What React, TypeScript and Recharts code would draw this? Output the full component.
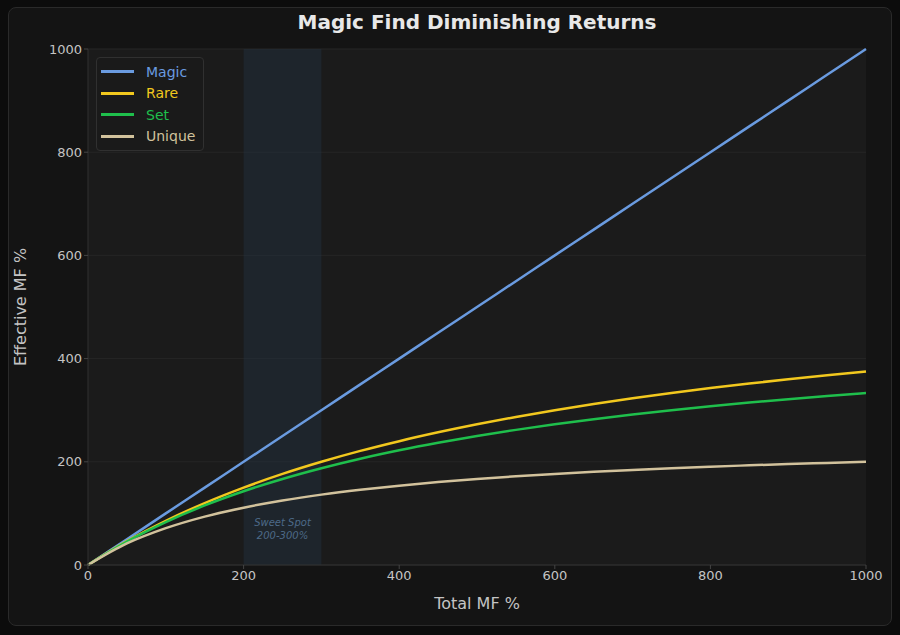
import { LineChart, Line, XAxis, YAxis, CartesianGrid, ReferenceArea } from "recharts";

const totalMf = [0, 50, 100, 150, 200, 250, 300, 350, 400, 450, 500, 550, 600, 650, 700, 750, 800, 850, 900, 950, 1000];
const magicMf = [0, 50, 100, 150, 200, 250, 300, 350, 400, 450, 500, 550, 600, 650, 700, 750, 800, 850, 900, 950, 1000];
const rareMf = [0, 46.2, 85.7, 120, 150, 176.5, 200, 221.1, 240, 257.1, 272.7, 287, 300, 312, 323.1, 333.3, 342.9, 351.7, 360, 367.7, 375];
const setMf = [0, 45.5, 83.3, 115.4, 142.9, 166.7, 187.5, 205.9, 222.2, 236.8, 250, 261.9, 272.7, 282.6, 291.7, 300, 307.7, 314.8, 321.4, 327.6, 333.3];
const uniqueMf = [0, 41.7, 71.4, 93.8, 111.1, 125, 136.4, 145.8, 153.8, 160.7, 166.7, 171.9, 176.5, 180.6, 184.2, 187.5, 190.5, 193.2, 195.7, 197.9, 200];
const axisTicks = [0, 200, 400, 600, 800, 1000];

const series = [
  { key: "magic", name: "Magic", color: "#6a9be0" },
  { key: "rare", name: "Rare", color: "#f2c81e" },
  { key: "set", name: "Set", color: "#1fbf4c" },
  { key: "unique", name: "Unique", color: "#d2c29c" },
];

const chartData = totalMf.map((x, i) => ({
  x,
  magic: magicMf[i],
  rare: rareMf[i],
  set: setMf[i],
  unique: uniqueMf[i],
}));

const FONT = "'DejaVu Sans', sans-serif";

function LegendBox() {
  return (
    <div
      style={{
        position: "absolute",
        left: 96,
        top: 57,
        background: "#1a1a1a",
        border: "1px solid #303030",
        borderRadius: 4,
        padding: "3px 8px 3px 4px",
        fontFamily: FONT,
        fontSize: 14,
      }}
    >
      {series.map((s) => (
        <div key={s.key} style={{ display: "flex", alignItems: "center", height: 21.5 }}>
          <span style={{ display: "inline-block", width: 33, height: 3, background: s.color, marginRight: 12 }} />
          <span style={{ color: s.color }}>{s.name}</span>
        </div>
      ))}
    </div>
  );
}

function SweetLabel(props: any) {
  const vb = props.viewBox || {};
  const cx = vb.x + vb.width / 2;
  const bottom = vb.y + vb.height;
  return (
    <g>
      <text x={cx} y={bottom - 39} textAnchor="middle" fill="#4d6a88" fontSize={10} fontStyle="italic" fontFamily={FONT}>
        Sweet Spot
      </text>
      <text x={cx} y={bottom - 26} textAnchor="middle" fill="#4d6a88" fontSize={10} fontStyle="italic" fontFamily={FONT}>
        200-300%
      </text>
    </g>
  );
}

export default function App() {
  return (
    <div style={{ position: "absolute", left: 0, top: 0, width: 900, height: 635, background: "#0c0c0c" }}>
      <div
        style={{
          position: "absolute",
          left: 8,
          top: 7,
          width: 882,
          height: 617,
          background: "#141414",
          border: "1px solid #2a2a2a",
          borderRadius: 8,
        }}
      />
      <div
        style={{
          position: "absolute",
          left: 88,
          width: 778,
          top: 10,
          textAlign: "center",
          color: "#e8e8e8",
          fontFamily: FONT,
          fontWeight: "bold",
          fontSize: 20,
        }}
      >
        Magic Find Diminishing Returns
      </div>
      <div style={{ position: "absolute", left: 0, top: 0 }}>
        <LineChart width={900} height={635} data={chartData} margin={{ top: 49, right: 34, left: 28, bottom: 40 }}>
          <CartesianGrid vertical={false} stroke="#262626" fill="#1b1b1b" />
          <ReferenceArea x1={200} x2={300} y1={0} y2={1000} fill="#243447" fillOpacity={0.4} stroke="none" label={<SweetLabel />} />
          <XAxis
            dataKey="x"
            type="number"
            domain={[0, 1000]}
            ticks={axisTicks}
            tick={{ fill: "#c4c4c4", fontSize: 13, fontFamily: FONT }}
            tickLine={{ stroke: "#444" }}
            tickSize={4}
            axisLine={{ stroke: "#303030" }}
            height={30}
            label={{ value: "Total MF %", position: "insideBottom", offset: -14, fill: "#c4c4c4", fontSize: 16, fontFamily: FONT }}
          />
          <YAxis
            type="number"
            domain={[0, 1000]}
            ticks={axisTicks}
            tick={{ fill: "#c4c4c4", fontSize: 13, fontFamily: FONT }}
            tickLine={{ stroke: "#444" }}
            tickSize={4}
            axisLine={{ stroke: "#303030" }}
            width={60}
            label={{ value: "Effective MF %", angle: -90, position: "insideLeft", offset: -8, fill: "#c4c4c4", fontSize: 16, fontFamily: FONT, style: { textAnchor: "middle" } }}
          />
          {series.map((s) => (
            <Line
              key={s.key}
              type="monotone"
              dataKey={s.key}
              name={s.name}
              stroke={s.color}
              strokeWidth={2.5}
              dot={false}
              isAnimationActive={false}
            />
          ))}
        </LineChart>
      </div>
      <LegendBox />
    </div>
  );
}
